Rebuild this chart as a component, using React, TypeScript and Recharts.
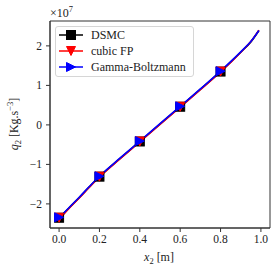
import React from 'react'
import { ComposedChart, Line, Scatter, XAxis, YAxis, Legend, ReferenceArea } from 'recharts'

// q2 along x2, values in units of 1e7 Kg.s^-3
const xLine = [0, 0.02, 0.05, 0.1, 0.15, 0.2, 0.3, 0.4, 0.5, 0.6, 0.7, 0.8, 0.85, 0.9, 0.95, 0.99]
const dsmcLine = [-2.38, -2.26, -2.1, -1.84, -1.57, -1.31, -0.86, -0.42, 0.02, 0.46, 0.9, 1.35, 1.59, 1.84, 2.1, 2.39]
const fpLine = [-2.4, -2.28, -2.11, -1.85, -1.58, -1.32, -0.87, -0.43, 0.01, 0.45, 0.89, 1.34, 1.58, 1.84, 2.11, 2.4]
const gbLine = [-2.37, -2.25, -2.09, -1.83, -1.56, -1.3, -0.85, -0.41, 0.03, 0.47, 0.91, 1.36, 1.6, 1.85, 2.11, 2.39]

// markers every 0.2 m
const xMarkers = [0, 0.2, 0.4, 0.6, 0.8]
const dsmcMarkers = [-2.35, -1.31, -0.42, 0.46, 1.35]
const fpMarkers = [-2.35, -1.31, -0.42, 0.46, 1.35]
const gbMarkers = [-2.34, -1.3, -0.41, 0.47, 1.36]

const xTicks = [0, 0.2, 0.4, 0.6, 0.8, 1.0]
const yTicks = [-2, -1, 0, 1, 2]

const X_DOMAIN: [number, number] = [-0.045, 1.045]
const Y_DOMAIN: [number, number] = [-2.61, 2.63]

const FONT = '"Liberation Serif", "DejaVu Serif", serif'
const INK = '#222'

type MarkerKind = 'square' | 'down' | 'right'

const series = [
  { name: 'DSMC', color: '#000000', marker: 'square' as MarkerKind, line: dsmcLine, markers: dsmcMarkers },
  { name: 'cubic FP', color: '#ff0000', marker: 'down' as MarkerKind, line: fpLine, markers: fpMarkers },
  { name: 'Gamma-Boltzmann', color: '#0000ff', marker: 'right' as MarkerKind, line: gbLine, markers: gbMarkers },
]

const toPoints = (xs: number[], ys: number[]) => xs.map((x, i) => ({ x, y: ys[i] }))

function MarkerGlyph({ kind, cx, cy, color, r = 4.5 }: { kind: MarkerKind; cx: number; cy: number; color: string; r?: number }) {
  if (kind === 'square') {
    return <rect x={cx - r} y={cy - r} width={2 * r} height={2 * r} fill={color} stroke={color} strokeWidth={1} />
  }
  const pts =
    kind === 'down'
      ? [[cx - r, cy - r], [cx + r, cy - r], [cx, cy + r]]
      : [[cx - r, cy - r], [cx - r, cy + r], [cx + r, cy]]
  return <polygon points={pts.map((p) => p.join(',')).join(' ')} fill={color} stroke={color} strokeWidth={1} strokeLinejoin="miter" />
}

function makeShape(kind: MarkerKind, color: string) {
  return (props: any) => {
    const { cx, cy } = props
    if (cx == null || cy == null) return <g />
    return <MarkerGlyph kind={kind} cx={cx} cy={cy} color={color} />
  }
}

function renderLegend() {
  return (
    <div
      style={{
        border: '1px solid #d6d6d6',
        borderRadius: 3,
        background: 'rgba(255,255,255,0.85)',
        width: 137,
        height: 49,
        fontFamily: FONT,
        fontSize: 12,
        color: INK,
      }}
    >
      {series.map((s) => (
        <div key={s.name} style={{ display: 'flex', alignItems: 'center', height: 16 }}>
          <svg width={35} height={16} style={{ display: 'block' }}>
            <line x1={3} x2={27} y1={8} y2={8} stroke={s.color} strokeWidth={1.5} />
            <MarkerGlyph kind={s.marker} cx={15} cy={8} color={s.color} />
          </svg>
          <span style={{ lineHeight: '16px', whiteSpace: 'nowrap' }}>{s.name}</span>
        </div>
      ))}
    </div>
  )
}

function XTitle() {
  return (
    <text x={159} y={261} textAnchor="middle" fontFamily={FONT} fontSize={12} fill={INK}>
      <tspan fontStyle="italic">x</tspan>
      <tspan fontSize={8.5} dy={3}>2</tspan>
      <tspan dy={-3}> [m]</tspan>
    </text>
  )
}

function YTitle() {
  return (
    <g>
      <text
        x={0}
        y={0}
        transform="translate(18,124) rotate(-90)"
        textAnchor="middle"
        fontFamily={FONT}
        fontSize={12}
        fill={INK}
      >
        <tspan fontStyle="italic">q</tspan>
        <tspan fontSize={8.5} dy={3}>2</tspan>
        <tspan dy={-3}> [Kg.s</tspan>
        <tspan fontSize={8.5} dy={-5}>−3</tspan>
        <tspan dy={5}>]</tspan>
      </text>
      <text x={50} y={17} fontFamily={FONT} fontSize={12} fill={INK}>
        ×10
        <tspan fontSize={8.5} dy={-5}>7</tspan>
      </text>
    </g>
  )
}

const fmtY = (v: number) => (v < 0 ? '−' + Math.abs(v) : String(v))

export default function App() {
  return (
    <div style={{ position: 'absolute', left: 0, top: 0, width: 279, height: 272, background: '#fff' }}>
      <ComposedChart width={279} height={272} margin={{ top: 21, right: 9, bottom: 0, left: 0 }} style={{ fontFamily: FONT }}>
        <XAxis
          dataKey="x"
          type="number"
          domain={X_DOMAIN}
          ticks={xTicks}
          tickFormatter={(v: number) => v.toFixed(1)}
          height={44}
          tickSize={4}
          tickMargin={3}
          stroke="#333"
          tick={{ fontSize: 11.5, fill: INK, fontFamily: FONT }}
          tickLine={{ stroke: '#333' }}
          allowDataOverflow
          label={<XTitle />}
        />
        <YAxis
          dataKey="y"
          type="number"
          domain={Y_DOMAIN}
          ticks={yTicks}
          tickFormatter={fmtY}
          width={50}
          tickSize={4}
          tickMargin={4}
          stroke="#333"
          tick={{ fontSize: 11.5, fill: INK, fontFamily: FONT }}
          tickLine={{ stroke: '#333' }}
          allowDataOverflow
          label={<YTitle />}
        />
        <ReferenceArea x1={X_DOMAIN[0]} x2={X_DOMAIN[1]} y1={Y_DOMAIN[0]} y2={Y_DOMAIN[1]} fill="none" stroke="#333" strokeWidth={1} ifOverflow="visible" />
        {series.map((s) => [
          <Line
            key={s.name + '-line'}
            data={toPoints(xLine, s.line)}
            dataKey="y"
            type="monotone"
            stroke={s.color}
            strokeWidth={1.6}
            dot={false}
            activeDot={false}
            legendType="none"
            isAnimationActive={false}
          />,
          <Scatter
            key={s.name + '-pts'}
            name={s.name}
            data={toPoints(xMarkers, s.markers)}
            dataKey="y"
            fill={s.color}
            shape={makeShape(s.marker, s.color)}
            isAnimationActive={false}
          />,
        ])}
        <Legend
          layout="vertical"
          align="center"
          verticalAlign="middle"
          content={renderLegend}
          wrapperStyle={{ position: 'absolute', left: 55, top: 26, width: 139, height: 51 }}
        />
      </ComposedChart>
    </div>
  )
}
